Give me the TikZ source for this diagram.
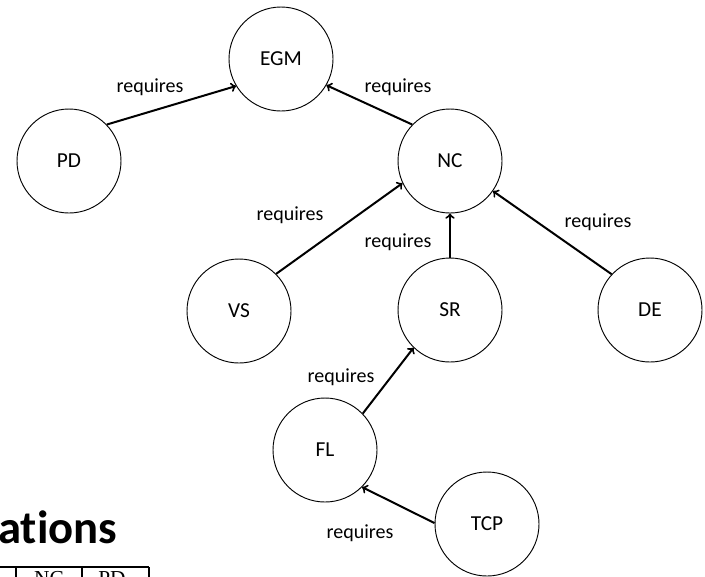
\documentclass[tikz,border=0pt]{standalone}
\usepackage{fontspec}
\setmainfont{Carlito}[Ligatures=NoCommon]
\newfontfamily\tablefont{Liberation Serif}
\tikzset{
	module/.style={circle, draw, line width=0.7pt, minimum size=78pt, inner sep=0pt, font=\fontsize{16}{18}\selectfont},
	req/.style={->, line width=1.5pt},
	lbl/.style={font=\fontsize{15}{18}\selectfont, inner sep=0pt}
}
\begin{document}
\begin{tikzpicture}[x=0.75pt, y=-0.75pt]
	    \useasboundingbox (0,0) rectangle (705,576);
	    \clip (0,0) rectangle (705,576);
	    
	    \node[module] (EGM) at (281,59) {EGM};
	    \node[module] (PD) at (69,161) {PD};
	    \node[module] (NC) at (450,161) {NC};
	    \node[module] (VS) at (239,311) {VS};
	    \node[module] (SR) at (450,310) {SR};
	    \node[module] (DE) at (650,310) {DE};
	    \node[module] (FL) at (325,450) {FL};
	    \node[module] (TCP) at (487,524) {TCP};
	    
	    \draw[req]  (PD.44) -- (EGM.211);
	    \draw[req]  (NC.136) -- (EGM.330);
	    \draw[req]  (VS.45) -- (NC.205);
	    \draw[req]  (SR.north) -- (NC.south);
	    \draw[req]  (DE.137) -- (NC.325);
	    \draw[req]  (FL.44) -- (SR.226);
	    \draw[req]  (TCP.179) -- (FL.315);
	    
	    \node[lbl] (l1) at (150,87) {requires};
	    \node[lbl] (l2) at (398,87) {requires};
	    \node[lbl] (l3) at (290,215) {requires};
	    \node[lbl] (l4) at (398,242) {requires};
	    \node[lbl] (l5) at (598,222) {requires};
	    \node[lbl] (l6) at (341,377) {requires};
	    \node[lbl] (l7) at (360,533) {requires};
	    
	    % cut-off slide title and table
	    \node[anchor=base west, inner sep=0pt, font=\fontsize{35}{40}\selectfont\bfseries] (title) at (-2,543) {ations};
	    \draw[line width=1.5pt] (0,567) -- (149,567);
	    \foreach \x in {16,82,149}
		\draw[line width=1.5pt] (\x,567) -- (\x,590);
	    \node[anchor=base, inner sep=0pt, font=\tablefont\fontsize{16}{18}\selectfont] (cNC) at (49,585) {NC};
	    \node[anchor=base, inner sep=0pt, font=\tablefont\fontsize{16}{18}\selectfont] (cPD) at (112,585) {PD};
\end{tikzpicture}
\end{document}
